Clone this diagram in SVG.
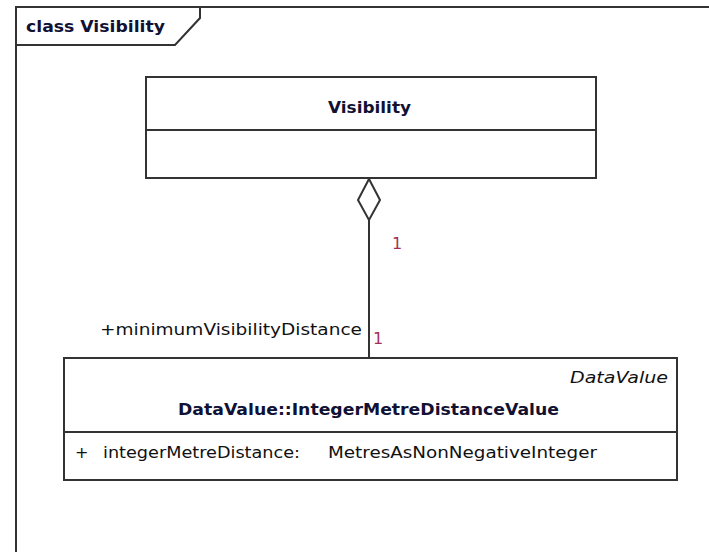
<svg xmlns="http://www.w3.org/2000/svg" width="709" height="552" viewBox="0 0 709 552">
  <style>
    .frame { fill: none; stroke: #333; stroke-width: 2; }
    .box { fill: #fff; stroke: #333; stroke-width: 2; }
    .edge { fill: none; stroke: #333; stroke-width: 2; }
    .t { font-family: "DejaVu Sans", "Liberation Sans", sans-serif; font-size: 16px; fill: #111; }
    .b { font-weight: bold; fill: #111133; }
    .it { font-style: italic; }
    .mult { fill: #a0305a; }
  </style>
  <rect width="709" height="552" fill="#fff"/>

  <!-- package frame -->
  <g id="frame">
    <path class="frame" d="M16,552 V7 H709"/>
    <path class="frame" d="M16,45 H175 L200,18 V7"/>
    <text class="t b" x="26" y="32" textLength="139" lengthAdjust="spacingAndGlyphs">class Visibility</text>
  </g>

  <!-- class Visibility -->
  <g id="visibility">
    <rect class="box" x="146" y="77" width="450" height="101"/>
    <line class="edge" x1="146" y1="130" x2="596" y2="130"/>
    <text class="t b" x="328" y="113" textLength="83" lengthAdjust="spacingAndGlyphs">Visibility</text>
  </g>

  <!-- data value class -->
  <g id="integerMetreDistanceValue">
    <rect class="box" x="64" y="358" width="613" height="122"/>
    <line class="edge" x1="64" y1="432" x2="677" y2="432"/>
    <text class="t it" x="570" y="383" textLength="98" lengthAdjust="spacingAndGlyphs">DataValue</text>
    <text class="t b" x="178" y="415" textLength="381" lengthAdjust="spacingAndGlyphs">DataValue::IntegerMetreDistanceValue</text>
    <text class="t" x="75" y="458">+</text>
    <text class="t" x="103" y="458" textLength="197" lengthAdjust="spacingAndGlyphs">integerMetreDistance:</text>
    <text class="t" x="328" y="458" textLength="269" lengthAdjust="spacingAndGlyphs">MetresAsNonNegativeInteger</text>
  </g>

  <!-- aggregation connector -->
  <g id="connectors">
    <path class="edge" d="M369,220 V358"/>
    <path class="edge" fill="#fff" d="M369,179 L380,200 L369,220 L358,200 Z"/>
    <text class="t mult" x="392" y="249">1</text>
    <text class="t" x="100" y="335" textLength="262" lengthAdjust="spacingAndGlyphs">+minimumVisibilityDistance</text>
    <text class="t mult" x="373" y="344">1</text>
  </g>
</svg>
